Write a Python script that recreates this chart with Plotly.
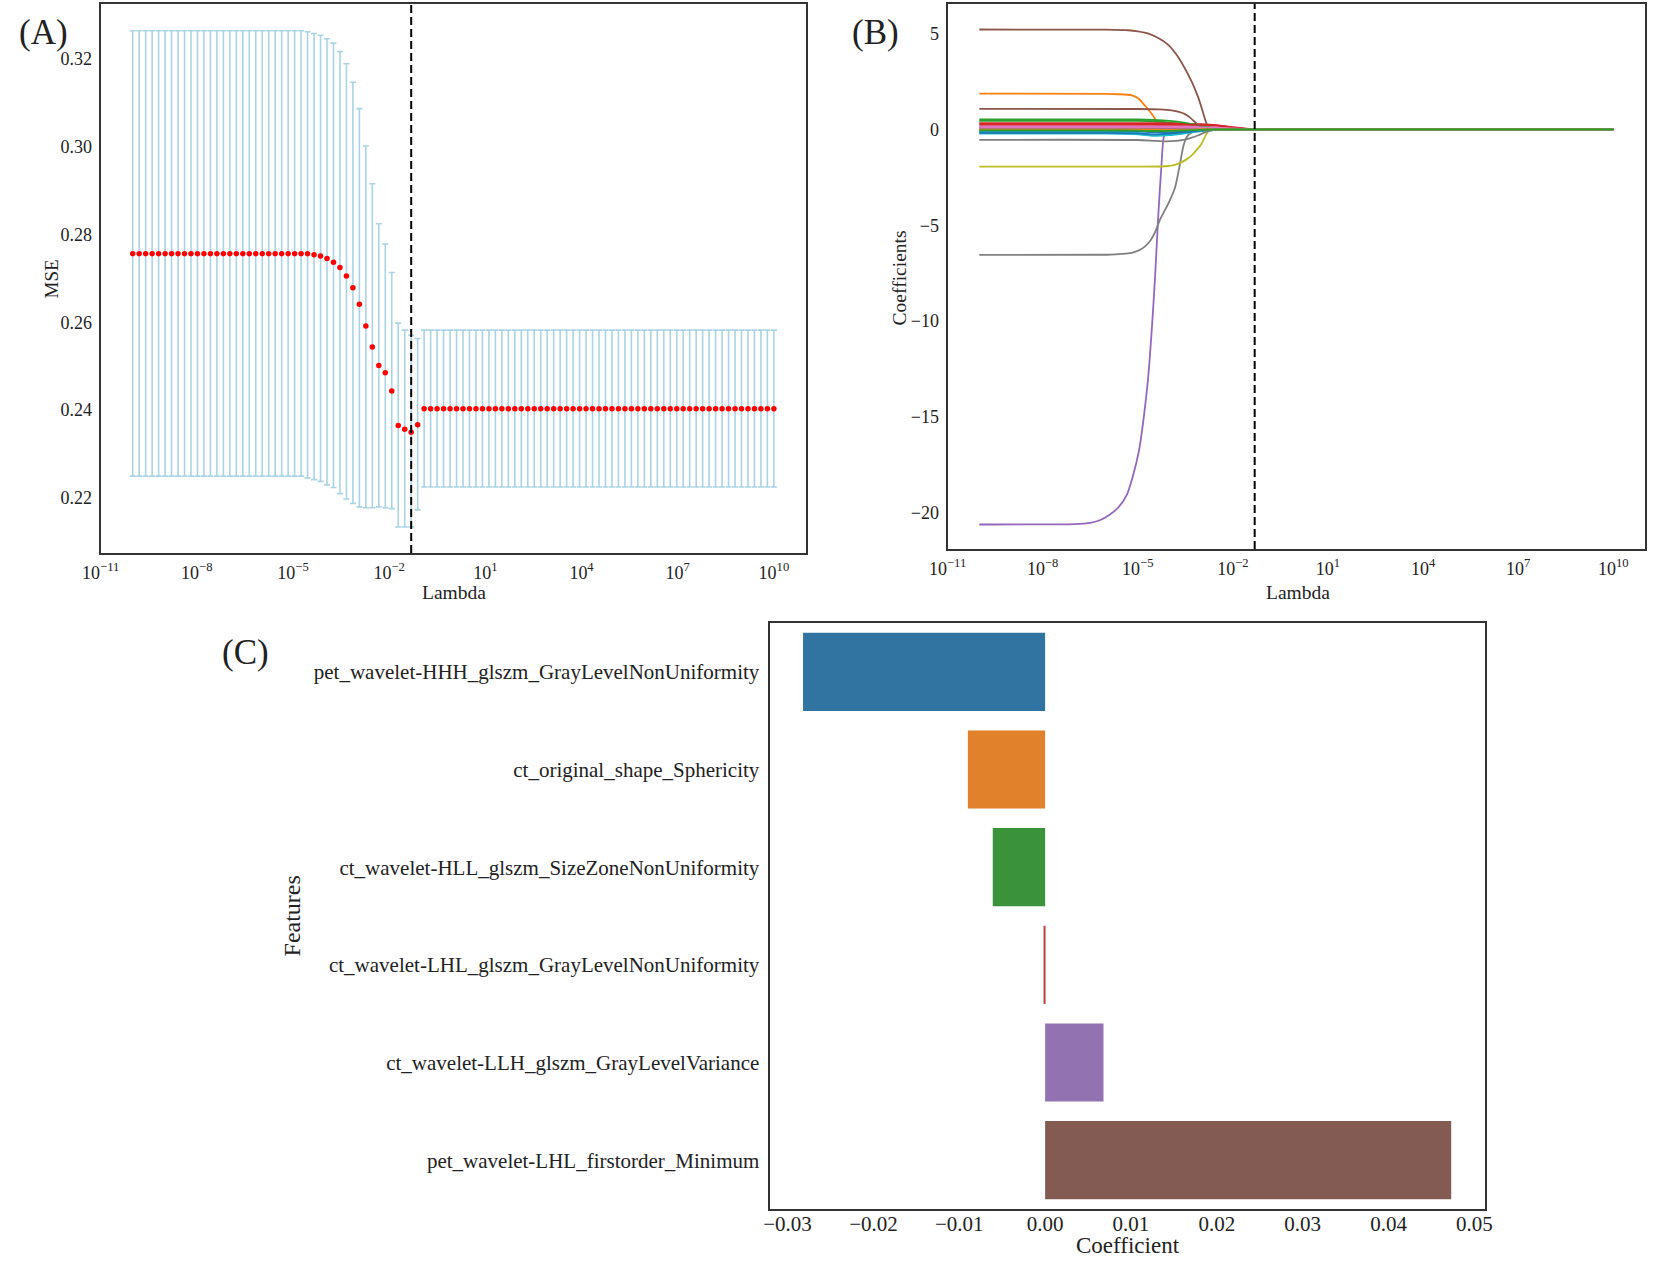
import numpy as np
import plotly.graph_objects as go

W, H = 1654, 1261
FONT = 'Liberation Serif'
INK = '#222222'
FRAME = '#333333'

# ---- panel A: cross-validated MSE along the lambda path ----
lambdas = np.logspace(-10, 10, 100)
mse = ([0.2756] * 26
       + [0.2756, 0.2756, 0.27536, 0.27505, 0.27448, 0.27366, 0.27245, 0.27050,
          0.26782, 0.26409, 0.25914, 0.25434, 0.25014, 0.24850, 0.24436, 0.23650,
          0.23568, 0.23495, 0.23666]
       + [0.2403] * 55)
mse_upper = ([0.3263] * 26
             + [0.3263, 0.3261, 0.3257, 0.3253, 0.3245, 0.3235, 0.3216, 0.3188,
                0.3146, 0.3086, 0.3001, 0.2915, 0.2824, 0.2778, 0.2713, 0.2598,
                0.2582, 0.2570, 0.2563]
             + [0.2582] * 55)
mse_lower = ([0.2250] * 26
             + [0.2250, 0.2246, 0.2242, 0.2238, 0.2230, 0.2224, 0.2210, 0.2198,
                0.2188, 0.2180, 0.2178, 0.2178, 0.2180, 0.2178, 0.2176, 0.2134,
                0.2134, 0.2134, 0.2173]
             + [0.2225] * 55)

# ---- panel B: coefficient paths (log10 lambda, coefficient) ----
purple_exp = [-10, -7, -6.5, -6.2, -5.9, -5.6, -5.35, -5.16, -4.96, -4.81, -4.68,
              -4.56, -4.46, -4.35, -4.25, -4.17, -4.05, -3.5, -3.0, -2.5, -2, 10]
purple_coef = [-20.62, -20.6, -20.54, -20.4, -20.13, -19.7, -19.09, -18.13, -16.74,
               -15.0, -13.08, -10.47, -7.83, -4.38, -1.77, -0.35, -0.2, -0.15,
               -0.08, -0.02, 0, 0]
brown_exp = [-10, -6, -5.3, -5.0, -4.66, -4.3, -4.03, -3.8, -3.62, -3.3, -3.1,
             -2.99, -2.83, -2.75, -2.5, -2, 10]
brown_coef = [5.22, 5.21, 5.18, 5.12, 5.0, 4.72, 4.4, 3.95, 3.5, 2.5, 1.7, 1.15,
              0.3, 0.08, 0.02, 0, 0]
orange_exp = [-10, -6, -5.6, -5.19, -4.98, -4.77, -4.6, -4.51, -4.35, -4.2, -3.5,
              -3.0, -2.5, -2, 10]
orange_coef = [1.87, 1.86, 1.84, 1.78, 1.62, 1.24, 0.9, 0.7, 0.3, 0.22, 0.2, 0.12,
               0.03, 0, 0]
brown2_exp = [-10, -5, -4.3, -3.93, -3.7, -3.51, -3.35, -3.25, -3.09, -2.9, -2.6,
              -2, 10]
brown2_coef = [1.08, 1.07, 1.05, 1.0, 0.92, 0.8, 0.62, 0.47, 0.22, 0.08, 0.02, 0, 0]
gray_small_exp = [-10, -5, -4.5, -4.14, -3.8, -3.51, -3.3, -3.09, -2.88, -2.67,
                  -2.4, -2, 10]
gray_small_coef = [-0.54, -0.55, -0.59, -0.62, -0.6, -0.53, -0.43, -0.3, -0.15,
                   -0.05, -0.01, 0, 0]
olive_exp = [-10, -5, -4.14, -3.9, -3.72, -3.5, -3.3, -3.15, -2.99, -2.9, -2.83,
             -2.75, -2.5, -2, 10]
olive_coef = [-1.94, -1.94, -1.92, -1.87, -1.78, -1.6, -1.35, -1.08, -0.74, -0.45,
              -0.22, -0.06, -0.01, 0, 0]
gray_big_exp = [-10, -6, -5.71, -5.19, -4.95, -4.77, -4.6, -4.45, -4.3, -4.14,
                -4.03, -3.82, -3.67, -3.56, -3.46, -3.3, -3.0, -2.5, 10]
gray_big_coef = [-6.55, -6.54, -6.52, -6.44, -6.3, -6.1, -5.8, -5.35, -4.7, -4.2,
                 -3.85, -3.0, -1.8, -0.85, -0.4, -0.15, -0.05, 0, 0]

grid_exp = [-10, -6, -5, -4.5, -4, -3.5, -3, -2.5, -2, -1.5, -1, 10]
blue_a = [0.08, 0.08, 0.08, 0.07, 0.05, 0.03, 0.01, 0, 0, 0, 0, 0]
green_a = [0.45, 0.45, 0.45, 0.43, 0.36, 0.25, 0.12, 0.03, 0, 0, 0, 0]
red_a = [0.33, 0.33, 0.33, 0.33, 0.32, 0.31, 0.28, 0.22, 0.12, 0.03, 0, 0]
pink_a = [0.18, 0.18, 0.18, 0.18, 0.18, 0.17, 0.16, 0.13, 0.07, 0.02, 0, 0]
cyan_a = [-0.22, -0.22, -0.25, -0.33, -0.3, -0.2, -0.08, -0.02, 0, 0, 0, 0]
blue_b = [-0.08, -0.08, -0.1, -0.15, -0.14, -0.1, -0.05, -0.01, 0, 0, 0, 0]
orange_b = [0.02, 0.02, 0.02, 0.02, 0.02, 0.01, 0.01, 0, 0, 0, 0, 0]
green_b = [0.52, 0.52, 0.52, 0.5, 0.45, 0.35, 0.2, 0.06, 0, 0, 0, 0]
red_b = [0.25, 0.25, 0.25, 0.25, 0.25, 0.25, 0.24, 0.2, 0.1, 0.02, 0, 0]
purple_b = [0.1, 0.1, 0.1, 0.1, 0.08, 0.05, 0.02, 0, 0, 0, 0, 0]
pink_b = [0.12, 0.12, 0.12, 0.12, 0.12, 0.12, 0.11, 0.09, 0.05, 0.01, 0, 0]
olive_b = [-0.03, -0.03, -0.03, -0.04, -0.04, -0.03, -0.01, 0, 0, 0, 0, 0]
cyan_b = [-0.15, -0.15, -0.18, -0.28, -0.25, -0.15, -0.05, 0, 0, 0, 0, 0]
blue_c = [-0.18, -0.18, -0.2, -0.26, -0.22, -0.14, -0.05, 0, 0, 0, 0, 0]
orange_c = [-0.02, -0.02, -0.02, -0.02, -0.02, -0.01, 0, 0, 0, 0, 0, 0]
green_c = [-0.05, -0.05, -0.06, -0.08, -0.07, -0.05, -0.02, 0, 0, 0, 0, 0]

# ---- panel C: selected features ----
features = ['pet_wavelet-HHH_glszm_GrayLevelNonUniformity',
            'ct_original_shape_Sphericity',
            'ct_wavelet-HLL_glszm_SizeZoneNonUniformity',
            'ct_wavelet-LHL_glszm_GrayLevelNonUniformity',
            'ct_wavelet-LLH_glszm_GrayLevelVariance',
            'pet_wavelet-LHL_firstorder_Minimum']
feature_coef = [-0.0282, -0.0090, -0.0061, -0.00015, 0.0068, 0.0473]
bar_colors = ['#3274a1', '#e1812c', '#3a923a', '#c03d3e', '#9372b2', '#845b53']

TAB10 = ['#1f77b4', '#ff7f0e', '#2ca02c', '#d62728', '#9467bd',
         '#8c564b', '#e377c2', '#7f7f7f', '#bcbd22', '#17becf']

log_ticks = [1e-11, 1e-8, 1e-5, 1e-2, 1e1, 1e4, 1e7, 1e10]
log_text = ['10<sup>\u221211</sup>', '10<sup>\u22128</sup>', '10<sup>\u22125</sup>',
            '10<sup>\u22122</sup>', '10<sup>1</sup>', '10<sup>4</sup>',
            '10<sup>7</sup>', '10<sup>10</sup>']


def px(x, y):
    return x / W, 1 - y / H


fig = go.Figure()

mse_arr = np.array(mse)
fig.add_trace(go.Scatter(
    x=lambdas, y=mse, mode='markers', xaxis='x', yaxis='y',
    marker=dict(color='#ff0000', size=5.5),
    error_y=dict(type='data', symmetric=False,
                 array=np.array(mse_upper) - mse_arr,
                 arrayminus=mse_arr - np.array(mse_lower),
                 color='#a9d4e4', thickness=1.6, width=3),
    showlegend=False))

paths = [
    (grid_exp, blue_a), (orange_exp, orange_coef), (grid_exp, green_a),
    (grid_exp, red_a), (purple_exp, purple_coef), (brown_exp, brown_coef),
    (grid_exp, pink_a), (gray_big_exp, gray_big_coef), (olive_exp, olive_coef),
    (grid_exp, cyan_a), (grid_exp, blue_b), (grid_exp, orange_b),
    (grid_exp, green_b), (grid_exp, red_b), (grid_exp, purple_b),
    (brown2_exp, brown2_coef), (grid_exp, pink_b), (gray_small_exp, gray_small_coef),
    (grid_exp, olive_b), (grid_exp, cyan_b), (grid_exp, blue_c),
    (grid_exp, orange_c), (grid_exp, green_c),
]
for i, (ex, cf) in enumerate(paths):
    fig.add_trace(go.Scatter(
        x=10.0 ** np.array(ex), y=cf, mode='lines', xaxis='x2', yaxis='y2',
        line=dict(color=TAB10[i % 10], width=1.8, shape='spline', smoothing=0.6),
        showlegend=False))

fig.add_trace(go.Bar(
    x=feature_coef, y=features, orientation='h', xaxis='x3', yaxis='y3',
    marker=dict(color=bar_colors, line=dict(width=0)), width=0.8,
    showlegend=False))

best_lambda = lambdas[int(np.argmin(mse))]
for xr, yr in (('x', 'y domain'), ('x2', 'y2 domain')):
    fig.add_shape(type='line', xref=xr, yref=yr, x0=best_lambda, x1=best_lambda,
                  y0=0, y1=1, line=dict(color='black', width=2, dash='8px,4px'))

frame = dict(showline=True, mirror=True, linecolor=FRAME, linewidth=2,
             showgrid=False, zeroline=False, ticks='')
tf_ab = dict(family=FONT, size=18, color=INK)
tf_c = dict(family=FONT, size=21, color=INK)

fig.update_layout(
    width=W, height=H, margin=dict(l=0, r=0, t=0, b=0),
    paper_bgcolor='white', plot_bgcolor='white',
    font=dict(family=FONT, color=INK),
    xaxis=dict(frame, domain=[83 / W, 800 / W], anchor='y', type='log',
               range=[-11, 11], tickvals=log_ticks, ticktext=log_text,
               tickfont=tf_ab, ticklabelstandoff=2),
    yaxis=dict(frame, domain=[1 - 553 / H, 1 - 4 / H], anchor='x',
               range=[0.2075, 0.3324],
               tickvals=[0.22, 0.24, 0.26, 0.28, 0.30, 0.32],
               ticktext=['0.22', '0.24', '0.26', '0.28', '0.30', '0.32'],
               tickfont=tf_ab, ticklabelstandoff=3),
    xaxis2=dict(frame, domain=[944 / W, 1653 / W], anchor='y2', type='log',
                range=[-11, 11], tickvals=log_ticks, ticktext=log_text,
                tickfont=tf_ab, ticklabelstandoff=2),
    yaxis2=dict(frame, domain=[1 - 549 / H, 1 - 4 / H], anchor='x2',
                range=[-21.9, 6.55],
                tickvals=[-20, -15, -10, -5, 0, 5],
                ticktext=['\u221220', '\u221215', '\u221210', '\u22125', '0', '5'],
                tickfont=tf_ab, ticklabelstandoff=3),
    xaxis3=dict(frame, domain=[763 / W, 1490 / W], anchor='y3',
                range=[-0.0321, 0.0512],
                tickvals=[-0.03, -0.02, -0.01, 0, 0.01, 0.02, 0.03, 0.04, 0.05],
                ticktext=['\u22120.03', '\u22120.02', '\u22120.01', '0.00', '0.01',
                          '0.02', '0.03', '0.04', '0.05'],
                tickfont=tf_c, ticklabelstandoff=-5),
    yaxis3=dict(frame, domain=[1 - 1209 / H, 1 - 623 / H], anchor='x3',
                type='category', range=[5.5, -0.5], tickfont=tf_c,
                ticklabelstandoff=4),
)

labels = [
    ('(A)', 25, 32, 35, 0), ('(B)', 871, 32, 35, 0), ('(C)', 230, 652, 35, 0),
    ('MSE', 33, 279, 19, -90), ('Lambda', 442, 592, 19.5, 0),
    ('Coefficients', 895, 278, 19.5, -90), ('Lambda', 1300, 592, 19.5, 0),
    ('Features', 278, 916, 24, -90), ('Coefficient', 1127, 1245, 23, 0),
]
for text, lx, ly, size, ang in labels:
    ax_, ay_ = px(lx, ly)
    fig.add_annotation(text=text, x=ax_, y=ay_, xref='paper', yref='paper',
                       xanchor='center', yanchor='middle', showarrow=False,
                       textangle=ang, font=dict(family=FONT, size=size, color=INK))

# the page's default body margin would push the fixed-size figure off the window
fig.write_html('out.html', config={'displayModeBar': False},
               post_script="document.body.style.margin='0';"
                           "document.body.style.overflow='hidden';")
